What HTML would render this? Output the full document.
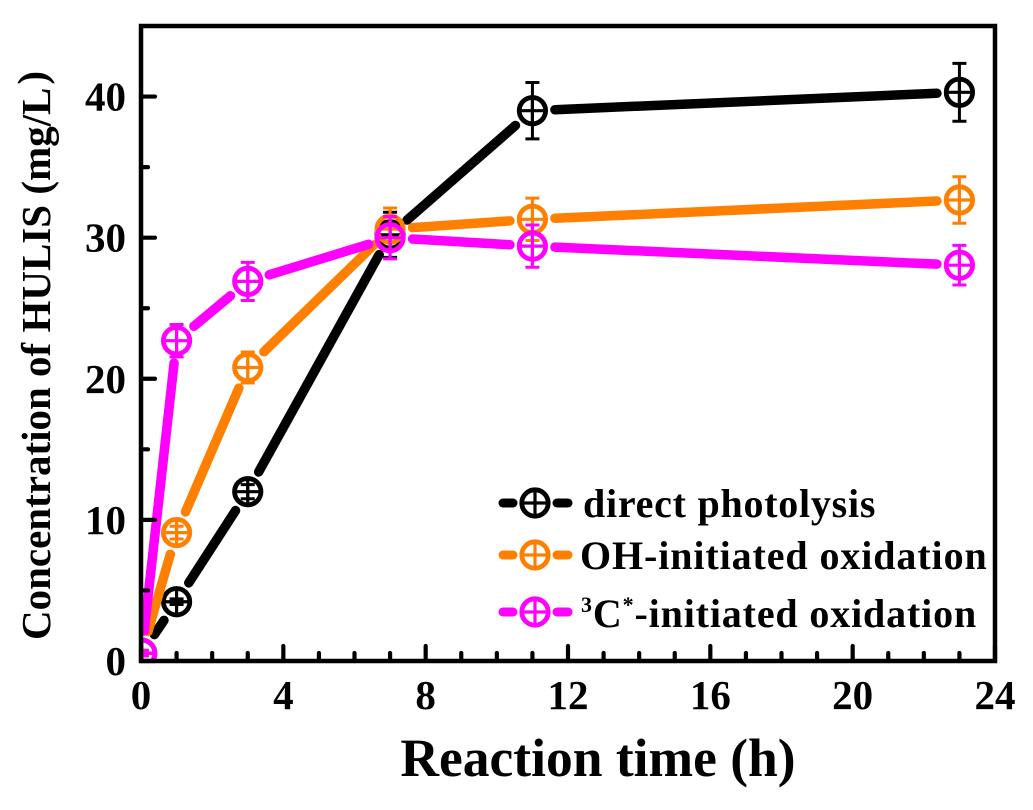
<!DOCTYPE html>
<html lang="en">
<head>
<meta charset="utf-8">
<title>Concentration of HULIS vs reaction time</title>
<style>
html,body{margin:0;padding:0;background:#fff;}
#chart{display:block;width:1033px;height:810px;filter:blur(0.35px);}
text{font-family:"Liberation Serif","Noto Serif CJK SC",serif;font-weight:bold;fill:#000;}
</style>
</head>
<body>
<svg id="chart" xmlns="http://www.w3.org/2000/svg" width="1033" height="810" viewBox="0 0 1033 810">
  <defs>
    <clipPath id="plot-clip"><rect x="141" y="26" width="854" height="635"/></clipPath>
  </defs>
  <rect x="0" y="0" width="1033" height="810" fill="#fff"/>
  <g id="series-layer"></g>
  <g id="axis-layer"></g>
  <text x="598" y="776" text-anchor="middle" font-size="53.5">Reaction time (h)</text>
  <text transform="translate(50,640) rotate(-90)" font-size="41">Concentration of HULIS (mg/L<tspan dx="3" dy="-4">)</tspan></text>
  <g id="legend"></g>
</svg>
<script>
const timeHours = [0.02, 1, 3, 7, 11, 23];
const directPhotolysis = [0.55, 4.2, 12, 30.2, 39, 40.3];
const directErrors = [0.2, 0.2, 0.5, 1.6, 2.0, 2.05];
const ohOxidation = [0.55, 9.1, 20.8, 30.6, 31.3, 32.67];
const ohErrors = [0.2, 0.45, 1.1, 1.5, 1.5, 1.65];
const cOxidation = [0.55, 22.7, 26.9, 30, 29.4, 28.05];
const cErrors = [0.2, 1.15, 1.35, 1.5, 1.5, 1.4];
const xMajorTicks = [0, 4, 8, 12, 16, 20, 24];
const xMinorTicks = [1, 2, 3, 5, 6, 7, 9, 10, 11, 13, 14, 15, 17, 18, 19, 21, 22, 23];
const yMajorTicks = [0, 10, 20, 30, 40];
const yMinorTicks = [5, 15, 25, 35];
const xDomain = [0, 24];
const yDomain = [0, 45];

const NS = 'http://www.w3.org/2000/svg';
const plot = {left: 141, right: 995, top: 26, bottom: 661};
function xScale(v) {
  return plot.left + (v - xDomain[0]) / (xDomain[1] - xDomain[0]) * (plot.right - plot.left);
}
function yScale(v) {
  return plot.bottom - (v - yDomain[0]) / (yDomain[1] - yDomain[0]) * (plot.bottom - plot.top);
}
function make(parent, tag, props, text) {
  const el = document.createElementNS(NS, tag);
  for (const key in props) el.setAttribute(key, props[key]);
  if (text !== undefined) el.textContent = text;
  parent.appendChild(el);
  return el;
}

const seriesLayer = document.getElementById('series-layer');
const axisLayer = document.getElementById('axis-layer');
const legend = document.getElementById('legend');
const MARKER_R = 13.2;
const GAP = 22.5;

function drawMarker(parent, cx, cy, color) {
  const g = make(parent, 'g', {});
  
  
  make(g, 'circle', {cx: cx, cy: cy, r: MARKER_R, fill: 'none', stroke: color, 'stroke-width': 4.8});
  make(g, 'path', {d: 'M' + (cx - MARKER_R) + ' ' + cy + 'H' + (cx + MARKER_R) + 'M' + cx + ' ' + (cy - MARKER_R) + 'V' + (cy + MARKER_R), fill: 'none', stroke: color, 'stroke-width': 3.2});
}

function drawSeries(name, values, errors, color) {
  const g = make(seriesLayer, 'g', {'clip-path': 'url(#plot-clip)'});
  
  
  for (let i = 0; i + 1 < values.length; i++) {
    const x1 = xScale(timeHours[i]), y1 = yScale(values[i]);
    const x2 = xScale(timeHours[i + 1]), y2 = yScale(values[i + 1]);
    const len = Math.hypot(x2 - x1, y2 - y1);
    if (len <= GAP * 2) continue;
    const ux = (x2 - x1) / len, uy = (y2 - y1) / len;
    const seg = make(g, 'line', {x1: x1 + ux * GAP, y1: y1 + uy * GAP, x2: x2 - ux * GAP, y2: y2 - uy * GAP, stroke: color, 'stroke-width': 9.5, 'stroke-linecap': 'round'});
    
    
  }
  values.forEach(function (v, i) {
    const cx = xScale(timeHours[i]);
    const hi = yScale(v + errors[i]), lo = yScale(v - errors[i]);
    const bar = make(g, 'path', {d: 'M' + cx + ' ' + hi + 'V' + lo + 'M' + (cx - 7) + ' ' + hi + 'H' + (cx + 7) + 'M' + (cx - 7) + ' ' + lo + 'H' + (cx + 7), fill: 'none', stroke: color, 'stroke-width': 3});
    
    
    drawMarker(g, cx, yScale(v), color);
  });
}

drawSeries('series-direct-photolysis', directPhotolysis, directErrors, '#000000');
drawSeries('series-oh-oxidation', ohOxidation, ohErrors, '#ff8000');
drawSeries('series-3c-oxidation', cOxidation, cErrors, '#ff00ff');

function drawAxes() {
  const frame = make(axisLayer, 'rect', {x: plot.left, y: plot.top, width: plot.right - plot.left, height: plot.bottom - plot.top, fill: 'none', stroke: '#000', 'stroke-width': 4.5});
  
  
  xMajorTicks.forEach(function (v) {
    const x = xScale(v);
    const tick = make(axisLayer, 'line', {x1: x, x2: x, y1: plot.bottom, y2: plot.bottom - 15, stroke: '#000', 'stroke-width': 4.2, 'stroke-linecap': 'round'});
    
    
    const label = make(axisLayer, 'text', {x: x, y: 709, 'text-anchor': 'middle', 'font-size': 41}, String(v));
    
    
  });
  xMinorTicks.forEach(function (v) {
    const x = xScale(v);
    const tick = make(axisLayer, 'line', {x1: x, x2: x, y1: plot.bottom, y2: plot.bottom - 8, stroke: '#000', 'stroke-width': 4.2, 'stroke-linecap': 'round'});
    
    
  });
  yMajorTicks.forEach(function (v) {
    const y = yScale(v);
    const tick = make(axisLayer, 'line', {x1: plot.left, x2: plot.left + 14, y1: y, y2: y, stroke: '#000', 'stroke-width': 4.2, 'stroke-linecap': 'round'});
    
    
    const label = make(axisLayer, 'text', {x: 126, y: y + 14, 'text-anchor': 'end', 'font-size': 41}, String(v));
    
    
  });
  yMinorTicks.forEach(function (v) {
    const y = yScale(v);
    const tick = make(axisLayer, 'line', {x1: plot.left, x2: plot.left + 7, y1: y, y2: y, stroke: '#000', 'stroke-width': 4.2, 'stroke-linecap': 'round'});
    
    
  });
}
drawAxes();

function legendKey(y, color) {
  const g = make(legend, 'g', {});
  
  
  make(g, 'line', {x1: 503, x2: 513, y1: y, y2: y, stroke: color, 'stroke-width': 9, 'stroke-linecap': 'round'});
  make(g, 'line', {x1: 557, x2: 568, y1: y, y2: y, stroke: color, 'stroke-width': 9, 'stroke-linecap': 'round'});
  drawMarker(g, 535, y, color);
}
legendKey(503, '#000000');
legendKey(555, '#ff8000');
legendKey(612, '#ff00ff');

const legendDirect = make(legend, 'text', {x: 583, y: 517, 'font-size': 40, 'letter-spacing': 0.75}, 'direct photolysis');


const legendOh = make(legend, 'text', {x: 580, y: 569, 'font-size': 40, 'letter-spacing': 0.9}, 'OH-initiated oxidation');


const legendC = make(legend, 'text', {x: 581, y: 627, 'font-size': 40, 'letter-spacing': 0.85});


make(legendC, 'tspan', {'font-size': 22, dy: -15}, '3');
make(legendC, 'tspan', {dy: 15}, 'C');
make(legendC, 'tspan', {'font-size': 22, dy: -15}, '*');
make(legendC, 'tspan', {dy: 15}, '-initiated oxidation');
</script>
</body>
</html>
